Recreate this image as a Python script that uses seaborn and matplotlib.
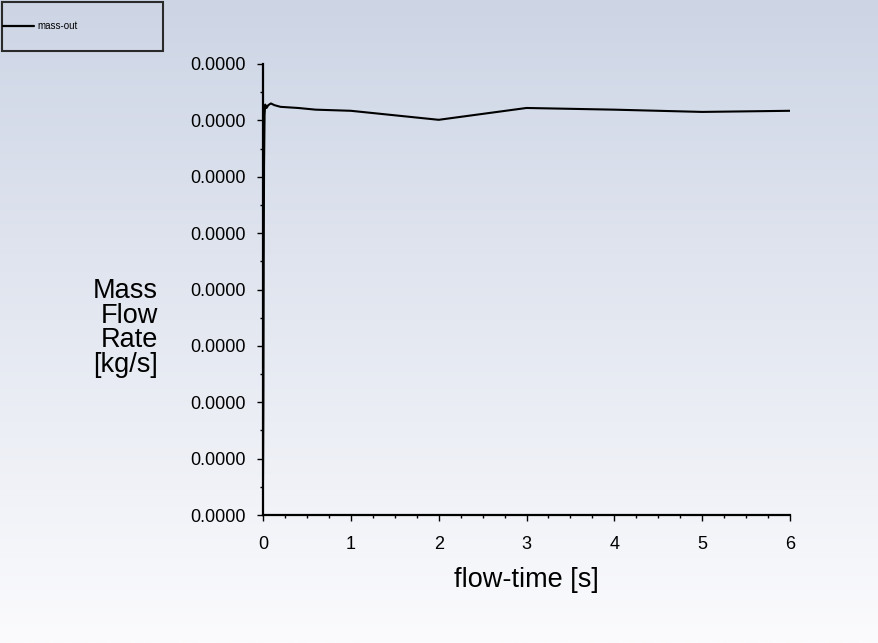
import numpy as np
import pandas as pd
import matplotlib
matplotlib.use("Agg")
import matplotlib.pyplot as plt
import seaborn as sns
from matplotlib.ticker import FormatStrFormatter, MultipleLocator
from matplotlib.patches import Rectangle
from matplotlib.lines import Line2D

# data (mass flow rate in kg/s, tiny values -> labels show 0.0000)
flow_time = [0.0, 0.004, 0.008, 0.012, 0.018, 0.025, 0.04, 0.06, 0.09, 0.13, 0.2, 0.4, 0.6, 1.0, 2.0, 3.0, 4.0, 5.0, 6.0]
mass_out = [0.62e-6, 2.0e-6, 4.5e-6, 6.2e-6, 7.1e-6, 7.28e-6, 7.22e-6, 7.27e-6, 7.30e-6, 7.27e-6, 7.24e-6, 7.22e-6, 7.19e-6, 7.17e-6, 7.01e-6, 7.22e-6, 7.19e-6, 7.15e-6, 7.17e-6]
series_name = "mass-out"
x_label = "flow-time [s]"
y_label = "Mass\nFlow\nRate\n[kg/s]"
y_ticks = [i * 1e-6 for i in range(9)]
x_ticks = [0, 1, 2, 3, 4, 5, 6]

df = pd.DataFrame({"flow-time": flow_time, "mass": mass_out})

sns.set_style("ticks")
plt.rcParams["font.family"] = ["Liberation Sans", "DejaVu Sans"]
plt.rcParams["text.color"] = "black"
plt.rcParams["axes.labelcolor"] = "black"

W, H = 879, 643
fig = plt.figure(figsize=(W / 100, H / 100), dpi=100)

# gradient background
bg = fig.add_axes([0, 0, 1, 1], zorder=-10)
grad = np.linspace(0, 1, 256)[:, None]
top = np.array([205, 213, 229]) / 255.0
bot = np.array([251, 251, 253]) / 255.0
img = top[None, None, :] * (1 - grad[:, :, None]) + bot[None, None, :] * grad[:, :, None]
bg.imshow(img, aspect="auto", extent=[0, 1, 0, 1])
bg.set_axis_off()

ax = fig.add_axes([263 / W, 1 - 515 / H, (790 - 263) / W, (515 - 64) / H])
ax.patch.set_alpha(0)
sns.lineplot(data=df, x="flow-time", y="mass", color="black", linewidth=1.5, ax=ax, sort=False)

ax.set_xlim(0, 6)
ax.set_ylim(0, 8e-6)
ax.set_xticks(x_ticks)
ax.set_yticks(y_ticks)
ax.xaxis.set_minor_locator(MultipleLocator(0.25))
ax.yaxis.set_minor_locator(MultipleLocator(0.5e-6))
ax.yaxis.set_major_formatter(FormatStrFormatter("%.4f"))
ax.xaxis.set_major_formatter(FormatStrFormatter("%d"))
ax.tick_params(axis="both", which="major", length=4.5, width=1, labelsize=13, color="black", labelcolor="black")
ax.tick_params(axis="both", which="minor", length=2.5, width=1, color="black")
ax.tick_params(axis="y", pad=8)
ax.tick_params(axis="x", pad=10.5)
for s in ["top", "right"]:
    ax.spines[s].set_visible(False)
for s in ["left", "bottom"]:
    ax.spines[s].set_color("black")
    ax.spines[s].set_linewidth(1.6)

ax.set_xlabel(x_label, fontsize=19.5, labelpad=10, color="black")
ax.set_ylabel("")
fig.text(158 / W, 1 - 328 / H, y_label, fontsize=19.5, ha="right", va="center",
         multialignment="right", linespacing=0.93, color="black")

# legend box
fig.patches.append(Rectangle((2 / W, 1 - 51 / H), 161 / W, 49 / H, transform=fig.transFigure,
                             facecolor="none", edgecolor="#2a2a2a", linewidth=1.5))
fig.lines.append(Line2D([3 / W, 34 / W], [1 - 26 / H, 1 - 26 / H], transform=fig.transFigure,
                        color="black", linewidth=1.6))
fig.text(37 / W, 1 - 26 / H, series_name, fontsize=7, ha="left", va="center", color="black")

fig.savefig("out.png", dpi=100)
